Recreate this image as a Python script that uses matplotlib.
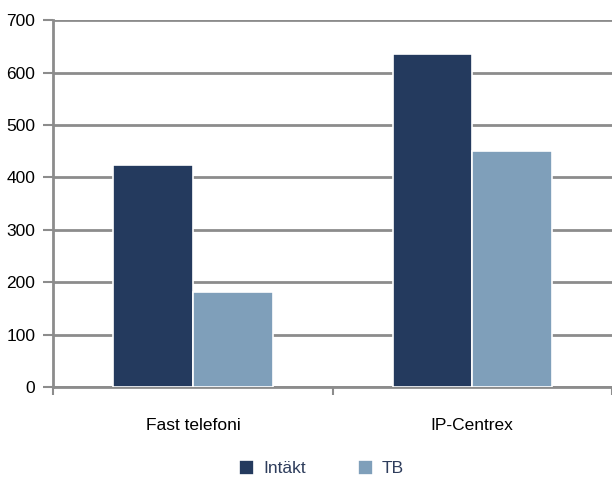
import matplotlib.pyplot as plt
import numpy as np

plt.rcParams['font.family'] = ['Liberation Sans', 'DejaVu Sans']

categories = ['Fast telefoni', 'IP-Centrex']
intakt = [423, 636]
tb = [181, 450]

NAVY = '#243a5e'
LIGHT = '#7f9fba'
GRID = '#8c8c8c'

fig = plt.figure(figsize=(6.12, 4.79), dpi=100)
ax = fig.add_axes([0.087, 0.192, 0.913, 0.766])

x = np.arange(len(categories))
w = 0.285
ax.bar(x - w / 2, intakt, w, color=NAVY, edgecolor='white', linewidth=1.2,
       label='Intäkt', zorder=3)
ax.bar(x + w / 2, tb, w, color=LIGHT, edgecolor='white', linewidth=1.2,
       label='TB', zorder=3)

ax.set_xlim(-0.5, 1.5)
ax.set_ylim(0, 700)
ax.set_yticks(range(0, 701, 100))
ax.yaxis.grid(True, color=GRID, linewidth=2, zorder=0)
ax.set_axisbelow(True)

ax.set_xticks(x)
ax.set_xticklabels(categories)
ax.set_xticks([-0.5, 0.5, 1.5], minor=True)
ax.tick_params(axis='x', which='major', length=0, pad=22, labelsize=12.5)
ax.tick_params(axis='x', which='minor', length=6, width=1.5, color=GRID)
ax.tick_params(axis='y', length=7, width=1.5, color=GRID, labelsize=12.5, pad=6)

for s in ['top', 'right']:
    ax.spines[s].set_visible(False)
for s in ['left', 'bottom']:
    ax.spines[s].set_color(GRID)
    ax.spines[s].set_linewidth(2)

leg = fig.legend(loc='lower center', bbox_to_anchor=(0.525, -0.027), ncol=2,
                 frameon=False, fontsize=12.5, handlelength=0.9, handleheight=0.9,
                 columnspacing=3.0, handletextpad=0.5)
for t in leg.get_texts():
    t.set_color('#2e3d5c')

fig.savefig('out.png', dpi=100)
